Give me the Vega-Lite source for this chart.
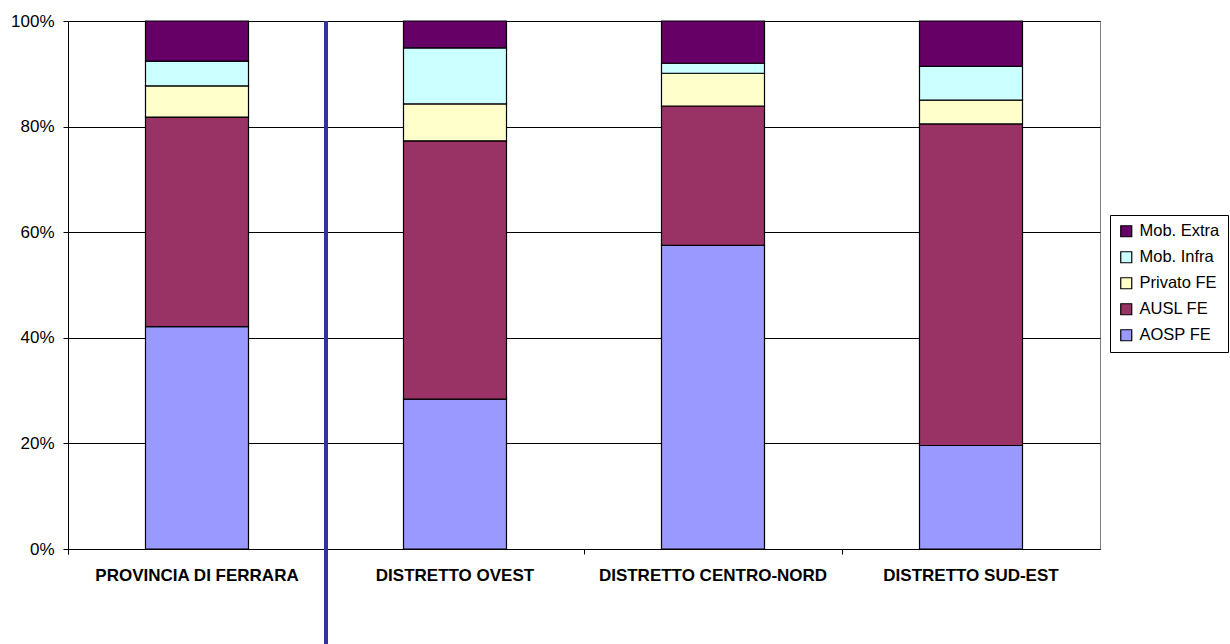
{
  "$schema": "https://vega.github.io/schema/vega-lite/v6.json",
  "autosize": {"type": "none"},
  "width": 1032,
  "height": 528,
  "padding": {"left": 68, "top": 21, "right": 130, "bottom": 95},
  "background": "#ffffff",
  "config": {
    "view": {"stroke": "#808080", "strokeWidth": 1},
    "font": "Liberation Sans"
  },
  "datasets": {
    "bars": [
      {"area": "PROVINCIA DI FERRARA", "serie": "AOSP FE", "ord": 1, "v": 0.421},
      {"area": "PROVINCIA DI FERRARA", "serie": "AUSL FE", "ord": 2, "v": 0.397},
      {"area": "PROVINCIA DI FERRARA", "serie": "Privato FE", "ord": 3, "v": 0.059},
      {"area": "PROVINCIA DI FERRARA", "serie": "Mob. Infra", "ord": 4, "v": 0.047},
      {"area": "PROVINCIA DI FERRARA", "serie": "Mob. Extra", "ord": 5, "v": 0.076},
      {"area": "DISTRETTO OVEST", "serie": "AOSP FE", "ord": 1, "v": 0.284},
      {"area": "DISTRETTO OVEST", "serie": "AUSL FE", "ord": 2, "v": 0.489},
      {"area": "DISTRETTO OVEST", "serie": "Privato FE", "ord": 3, "v": 0.070},
      {"area": "DISTRETTO OVEST", "serie": "Mob. Infra", "ord": 4, "v": 0.106},
      {"area": "DISTRETTO OVEST", "serie": "Mob. Extra", "ord": 5, "v": 0.051},
      {"area": "DISTRETTO CENTRO-NORD", "serie": "AOSP FE", "ord": 1, "v": 0.575},
      {"area": "DISTRETTO CENTRO-NORD", "serie": "AUSL FE", "ord": 2, "v": 0.264},
      {"area": "DISTRETTO CENTRO-NORD", "serie": "Privato FE", "ord": 3, "v": 0.062},
      {"area": "DISTRETTO CENTRO-NORD", "serie": "Mob. Infra", "ord": 4, "v": 0.019},
      {"area": "DISTRETTO CENTRO-NORD", "serie": "Mob. Extra", "ord": 5, "v": 0.080},
      {"area": "DISTRETTO SUD-EST", "serie": "AOSP FE", "ord": 1, "v": 0.196},
      {"area": "DISTRETTO SUD-EST", "serie": "AUSL FE", "ord": 2, "v": 0.609},
      {"area": "DISTRETTO SUD-EST", "serie": "Privato FE", "ord": 3, "v": 0.045},
      {"area": "DISTRETTO SUD-EST", "serie": "Mob. Infra", "ord": 4, "v": 0.064},
      {"area": "DISTRETTO SUD-EST", "serie": "Mob. Extra", "ord": 5, "v": 0.086}
    ],
    "divider": [
      {"area": "PROVINCIA DI FERRARA", "top": 1, "bottom": -0.18}
    ]
  },
  "layer": [
    {
      "data": {"name": "bars"},
      "mark": {"type": "bar", "size": 103, "stroke": "#000000", "strokeWidth": 1.2},
      "encoding": {
        "x": {
          "field": "area",
          "type": "nominal",
          "sort": null,
          "scale": {"domain": ["PROVINCIA DI FERRARA", "DISTRETTO OVEST", "DISTRETTO CENTRO-NORD", "DISTRETTO SUD-EST"], "paddingInner": 0, "paddingOuter": 0},
          "axis": {
            "title": null,
            "labelAngle": 0,
            "labelFont": "Liberation Sans",
            "labelFontSize": 17,
            "labelFontWeight": "bold",
            "labelColor": "#000000",
            "labelPadding": 13,
            "labelLimit": 0,
            "domainColor": "#000000",
            "tickColor": "#000000",
            "tickSize": 5,
            "bandPosition": 0,
            "tickExtra": true,
            "grid": false
          }
        },
        "y": {
          "field": "v",
          "type": "quantitative",
          "stack": "zero",
          "scale": {"domain": [0, 1], "nice": false},
          "axis": {
            "title": null,
            "format": ".0%",
            "values": [0, 0.2, 0.4, 0.6, 0.8, 1],
            "labelFont": "Liberation Sans",
            "labelFontSize": 17,
            "labelColor": "#000000",
            "labelPadding": 9,
            "domainColor": "#000000",
            "tickColor": "#000000",
            "tickSize": 5,
            "grid": true,
            "gridColor": "#000000",
            "gridWidth": 1
          }
        },
        "color": {
          "field": "serie",
          "type": "nominal",
          "scale": {
            "domain": ["Mob. Extra", "Mob. Infra", "Privato FE", "AUSL FE", "AOSP FE"],
            "range": ["#660066", "#CCFFFF", "#FFFFCC", "#993366", "#9999FF"]
          },
          "legend": {
            "title": null,
            "orient": "none",
            "legendX": 1042,
            "legendY": 194,
            "symbolType": "square",
            "symbolSize": 121,
            "symbolStrokeColor": "#000000",
            "symbolStrokeWidth": 1.2,
            "labelFont": "Liberation Sans",
            "labelFontSize": 16.5,
            "labelColor": "#000000",
            "labelOffset": 5,
            "labelLimit": 0,
            "rowPadding": 9,
            "strokeColor": "#000000",
            "padding": 8,
            "fillColor": "#ffffff"
          }
        },
        "order": {"field": "ord", "type": "quantitative", "sort": "ascending"}
      }
    },
    {
      "data": {"name": "divider"},
      "mark": {"type": "rule", "color": "#333399", "strokeWidth": 4, "clip": false},
      "encoding": {
        "x": {"field": "area", "type": "nominal", "sort": null, "bandPosition": 1},
        "y": {"field": "top", "type": "quantitative"},
        "y2": {"field": "bottom"}
      }
    }
  ]
}
